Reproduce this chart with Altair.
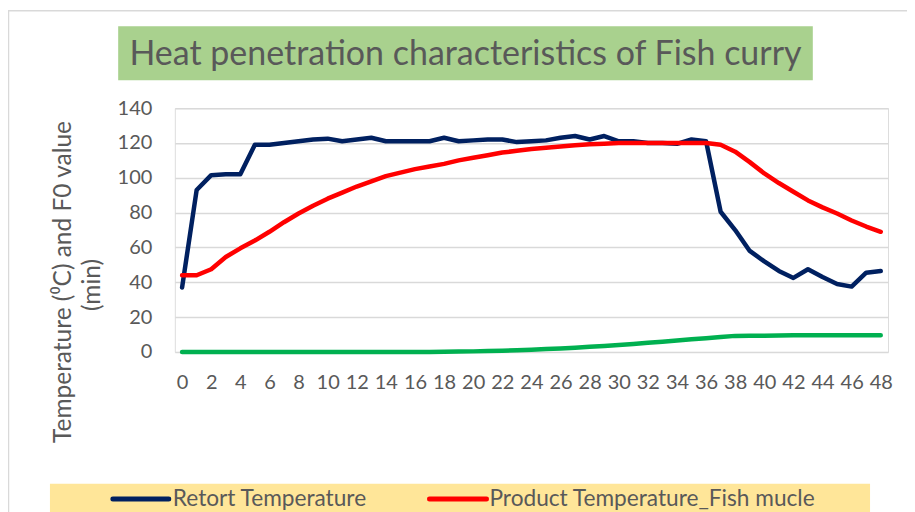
import altair as alt
import pandas as pd

FONT = "Lato"
GREY = "#595959"

minutes = list(range(49))
retort = [37, 93, 101.5, 102, 102, 119, 119, 120, 121, 122, 122.5, 121, 122, 123, 121,
          121, 121, 121, 123, 121, 121.5, 122, 122, 120.5, 121, 121.5, 123, 124, 122, 124,
          121, 121, 120, 120, 119.5, 122, 121, 80.5, 70, 58, 52, 46.5, 42.5, 47.5, 43,
          39, 37.5, 45.5, 46.5]
product = [44, 44, 47.5, 54.5, 59.5, 64, 69, 74.5, 79.5, 84, 88, 91.5, 95, 98, 101,
           103, 105, 106.5, 108, 110, 111.5, 113, 114.5, 115.5, 116.5, 117.3, 118, 118.7, 119.3, 119.6,
           120, 120, 120, 120, 120, 120, 120, 119, 115, 109, 102.5, 97, 92, 87, 83,
           79.5, 75.5, 72, 69]
f0 = [0, 0, 0, 0, 0, 0, 0, 0, 0, 0, 0, 0, 0, 0, 0,
      0, 0, 0, 0.1, 0.2, 0.3, 0.5, 0.7, 1.0, 1.3, 1.6, 2.0, 2.4, 2.9, 3.4,
      3.9, 4.5, 5.2, 5.8, 6.5, 7.2, 7.9, 8.6, 9.2, 9.3, 9.3, 9.4, 9.5, 9.5, 9.5,
      9.5, 9.5, 9.5, 9.5]

series_names = ["Retort Temperature", "Product Temperature_Fish mucle", "F0 value"]
series_colors = ["#002060", "#FF0000", "#00B050"]
y_ticks = [0, 20, 40, 60, 80, 100, 120, 140]
x_ticks = list(range(0, 49, 2))

title_text = "Heat penetration characteristics of Fish curry"
y_title_1 = "Temperature (\u2070C) and F0 value"
y_title_2 = "(min)"

df = pd.DataFrame({
    "minute": minutes * 3,
    "value": retort + product + f0,
    "series": [series_names[0]] * 49 + [series_names[1]] * 49 + [series_names[2]] * 49,
})
one = pd.DataFrame({"k": [0]})

x_enc = alt.X(
    "minute:Q",
    scale=alt.Scale(domain=[-0.5, 48.5], nice=False, zero=False),
    axis=alt.Axis(values=x_ticks, title=None, grid=False, ticks=False, domain=False,
                  labelFontSize=20, labelColor=GREY, labelFont=FONT, labelPadding=21,
                  labelFlush=False, labelOverlap=False),
)
y_enc = alt.Y(
    "value:Q",
    scale=alt.Scale(domain=[0, 140], nice=False),
    axis=alt.Axis(values=y_ticks, title=None, grid=True, gridColor="#D9D9D9", gridWidth=1.5,
                  ticks=False, domain=False, labelFontSize=20, labelColor=GREY,
                  labelFont=FONT, labelPadding=23),
)

border = alt.Chart(one).mark_rect(filled=False, stroke="#D9D9D9", strokeWidth=1.5).encode(
    x=alt.value(-166.5), x2=alt.value(760), y=alt.value(-97.5), y2=alt.value(430))

title_box = alt.Chart(one).mark_rect(color="#A9D18E").encode(
    x=alt.value(-56.7), x2=alt.value(638.7), y=alt.value(-82), y2=alt.value(-28))
title_mark = alt.Chart(one).mark_text(
    text=title_text, font=FONT, fontSize=34, color=GREY, align="center",
    baseline="alphabetic").encode(x=alt.value(291), y=alt.value(-43))

ytitle1 = alt.Chart(one).mark_text(
    text=y_title_1, font=FONT, fontSize=24.5, color=GREY, angle=270, align="center",
    baseline="middle").encode(x=alt.value(-111), y=alt.value(174))
ytitle2 = alt.Chart(one).mark_text(
    text=y_title_2, font=FONT, fontSize=24.5, color=GREY, angle=270, align="center",
    baseline="middle").encode(x=alt.value(-82), y=alt.value(177))

lines = []
for name, col in zip(series_names, series_colors):
    lines.append(
        alt.Chart(df).transform_filter(alt.datum.series == name)
        .mark_line(color=col, strokeWidth=4.5, strokeCap="round", strokeJoin="round")
        .encode(x=x_enc, y=y_enc)
    )

legend_box = alt.Chart(one).mark_rect(color="#FFE699").encode(
    x=alt.value(-125), x2=alt.value(696), y=alt.value(376), y2=alt.value(430))
leg_items = []
leg_x = [(-62, -6, -2), (255, 312, 315)]
for (lx1, lx2, tx), name, col in zip(leg_x, series_names[:2], series_colors[:2]):
    leg_items.append(alt.Chart(one).mark_rule(color=col, strokeWidth=5, strokeCap="round").encode(
        x=alt.value(lx1), x2=alt.value(lx2), y=alt.value(391.3)))
    leg_items.append(alt.Chart(one).mark_text(
        text=name, font=FONT, fontSize=22.7, color=GREY, align="left",
        baseline="alphabetic").encode(x=alt.value(tx), y=alt.value(398)))

chart = alt.layer(
    border, title_box, title_mark, ytitle1, ytitle2, *lines, legend_box, *leg_items
).properties(
    width=714, height=244,
    autosize=alt.AutoSizeParams(type="none"),
    padding={"left": 167, "top": 100, "right": 19, "bottom": 160},
).configure_view(stroke=None).configure(background="white")

chart.save("out.html", embed_options={"renderer": "svg", "actions": False})
